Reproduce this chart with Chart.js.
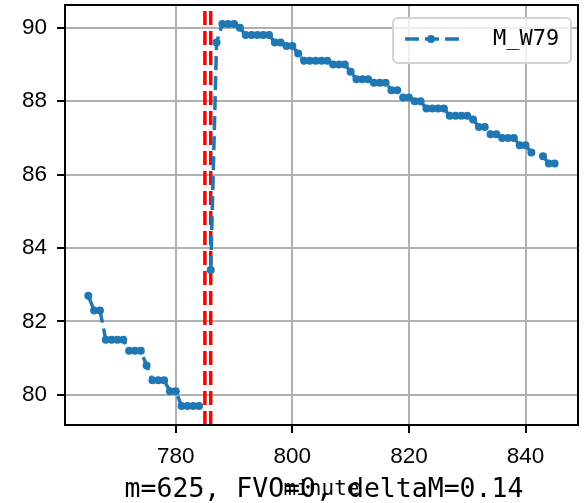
<!DOCTYPE html>
<html>
<head>
<meta charset="utf-8">
<script src="https://cdn.jsdelivr.net/npm/chart.js@4.4.1/dist/chart.umd.min.js"></script>
<style>
  html, body { margin: 0; padding: 0; background: #fff; }
  canvas { display: block; }
</style>
</head>
<body>
<canvas id="chart" width="585" height="503"></canvas>
<script>
// minute of the day, one reading per minute (785 and 842 are missing)
const minutes = [
  765, 766, 767, 768, 769, 770, 771, 772, 773, 774,
  775, 776, 777, 778, 779, 780, 781, 782, 783, 784,
  785, 786, 787, 788, 789, 790, 791, 792, 793, 794,
  795, 796, 797, 798, 799, 800, 801, 802, 803, 804,
  805, 806, 807, 808, 809, 810, 811, 812, 813, 814,
  815, 816, 817, 818, 819, 820, 821, 822, 823, 824,
  825, 826, 827, 828, 829, 830, 831, 832, 833, 834,
  835, 836, 837, 838, 839, 840, 841, 842, 843, 844,
  845
];
const values = [
  82.7, 82.3, 82.3, 81.5, 81.5, 81.5, 81.5, 81.2, 81.2, 81.2,
  80.8, 80.4, 80.4, 80.4, 80.1, 80.1, 79.7, 79.7, 79.7, 79.7,
  null, 83.4, 89.6, 90.1, 90.1, 90.1, 90.0, 89.8, 89.8, 89.8,
  89.8, 89.8, 89.6, 89.6, 89.5, 89.5, 89.3, 89.1, 89.1, 89.1,
  89.1, 89.1, 89.0, 89.0, 89.0, 88.8, 88.6, 88.6, 88.6, 88.5,
  88.5, 88.5, 88.3, 88.3, 88.1, 88.1, 88.0, 88.0, 87.8, 87.8,
  87.8, 87.8, 87.6, 87.6, 87.6, 87.6, 87.5, 87.3, 87.3, 87.1,
  87.1, 87.0, 87.0, 87.0, 86.8, 86.8, 86.6, null, 86.5, 86.3,
  86.3
];
const eventMinutes = [785, 786];
const xTicks = [780, 800, 820, 840];
const yTicks = [80, 82, 84, 86, 88, 90];
const xRange = [761, 849];
const yRange = [79.18, 90.62];
const seriesLabel = 'M_W79';
const xTitle = 'minute';
const noteText = 'm=625, FVO=0, deltaM=0.14';

const blue = '#1f77b4';
const mono = '"DejaVu Sans Mono", monospace';
const sans = '"Liberation Sans", Arial, sans-serif';

const series = minutes.map((m, i) => ({ x: m, y: values[i] }));

const eventSets = eventMinutes.map(m => ({
  data: [{ x: m, y: yRange[0] }, { x: m, y: yRange[1] }],
  borderColor: '#ff0000',
  borderWidth: 3.5,
  borderDash: [14, 6],
  pointRadius: 0,
  clip: 0,
  order: 2
}));

const framePlugin = {
  id: 'frame',
  afterDatasetsDraw(chart) {
    const { ctx, chartArea: a } = chart;
    ctx.save();
    ctx.strokeStyle = '#000';
    ctx.lineWidth = 2;
    ctx.strokeRect(a.left, a.top, a.right - a.left, a.bottom - a.top);
    ctx.restore();
  }
};

const legendPlugin = {
  id: 'boxLegend',
  afterDraw(chart) {
    const { ctx, chartArea: a } = chart;
    const w = 178, h = 45;
    const x = a.right - 185, y = a.top + 13;
    ctx.save();
    ctx.beginPath();
    ctx.roundRect(x, y, w, h, 5);
    ctx.fillStyle = 'rgba(255,255,255,0.8)';
    ctx.fill();
    ctx.strokeStyle = '#d4d4d4';
    ctx.lineWidth = 2;
    ctx.stroke();
    const ly = y + 21;
    ctx.strokeStyle = blue;
    ctx.lineWidth = 3.5;
    ctx.setLineDash([14, 6]);
    ctx.beginPath();
    ctx.moveTo(x + 12, ly);
    ctx.lineTo(x + 66, ly);
    ctx.stroke();
    ctx.setLineDash([]);
    ctx.beginPath();
    ctx.arc(x + 38, ly, 4, 0, Math.PI * 2);
    ctx.fillStyle = blue;
    ctx.fill();
    ctx.font = '22px ' + mono;
    ctx.fillStyle = '#000';
    ctx.textAlign = 'left';
    ctx.textBaseline = 'middle';
    ctx.fillText(seriesLabel, x + 100, ly);

    // note under the axis
    ctx.font = '26.5px ' + mono;
    ctx.textAlign = 'center';
    ctx.textBaseline = 'alphabetic';
    ctx.fillText(noteText, (a.left + a.right) / 2 + 2.5, 497);
    ctx.restore();
  }
};

new Chart(document.getElementById('chart').getContext('2d'), {
  type: 'line',
  data: {
    datasets: [{
      label: seriesLabel,
      data: series,
      borderColor: blue,
      backgroundColor: blue,
      borderWidth: 3.5,
      borderDash: [14, 6],
      pointRadius: 4,
      pointBackgroundColor: blue,
      pointBorderWidth: 0,
      spanGaps: false,
      tension: 0,
      order: 1
    }, ...eventSets]
  },
  options: {
    responsive: false,
    devicePixelRatio: 1,
    animation: false,
    layout: { padding: { top: 5, right: 7, left: 0, bottom: 0 } },
    plugins: {
      legend: { display: false },
      tooltip: { enabled: false }
    },
    scales: {
      x: {
        type: 'linear',
        min: xRange[0],
        max: xRange[1],
        afterBuildTicks: s => { s.ticks = xTicks.map(v => ({ value: v })); },
        afterFit: s => {
          s.height = 78;
          s.paddingLeft = 0; s.paddingRight = 0;
        },
        ticks: {
          font: { family: sans, size: 22.5 },
          color: '#000',
          padding: 10,
          maxRotation: 0
        },
        grid: {
          color: '#b0b0b0',
          lineWidth: 2,
          tickColor: '#000',
          tickLength: 8,
          tickWidth: 2
        },
        border: { display: true, color: '#000', width: 2 },
        title: {
          display: true,
          text: xTitle,
          font: { family: mono, size: 21 },
          color: '#000',
          padding: { top: 0, bottom: 1 }
        }
      },
      y: {
        type: 'linear',
        min: yRange[0],
        max: yRange[1],
        afterBuildTicks: s => { s.ticks = yTicks.map(v => ({ value: v })); },
        afterFit: s => {
          s.width = 65;
          s.paddingTop = 0; s.paddingBottom = 0;
        },
        ticks: {
          font: { family: sans, size: 22.5 },
          color: '#000',
          padding: 10
        },
        grid: {
          color: '#b0b0b0',
          lineWidth: 2,
          tickColor: '#000',
          tickLength: 8,
          tickWidth: 2
        },
        border: { display: true, color: '#000', width: 2 }
      }
    }
  },
  plugins: [framePlugin, legendPlugin]
});
</script>
</body>
</html>
